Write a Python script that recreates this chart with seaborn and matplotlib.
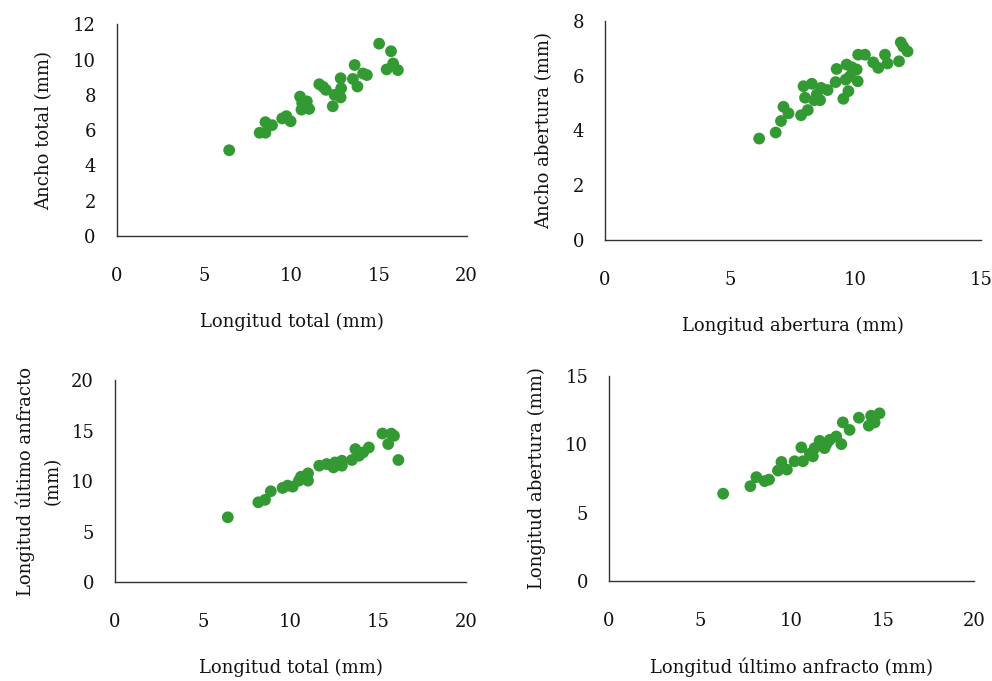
import matplotlib
matplotlib.use("Agg")
import matplotlib.pyplot as plt
import seaborn as sns
import pandas as pd

# Panel 1: Longitud total vs Ancho total
lt_1 = [6.43, 8.17, 8.5, 8.5, 8.88, 9.46, 9.7, 9.94, 10.48, 10.6, 10.87, 11.0, 10.56,
        11.58, 11.8, 11.96, 12.35, 12.45, 12.8, 12.8, 12.83, 13.6, 13.5, 13.76, 14.08,
        14.3, 15.0, 15.68, 15.43, 15.8, 16.07]
at_1 = [4.86, 5.85, 5.85, 6.45, 6.28, 6.66, 6.79, 6.5, 7.9, 7.53, 7.63, 7.2, 7.16,
        8.6, 8.45, 8.28, 7.35, 8.0, 8.94, 7.85, 8.37, 9.69, 8.9, 8.47, 9.21,
        9.12, 10.9, 10.47, 9.44, 9.78, 9.4]

# Panel 2: Longitud abertura vs Ancho abertura
la_2 = [6.15, 6.81, 7.02, 7.12, 7.32, 7.82, 8.09, 7.92, 8.25, 7.98, 8.35, 8.58, 8.62,
        8.88, 8.45, 9.2, 9.24, 9.51, 9.64, 9.71, 9.77, 9.6, 9.85, 10.04, 10.08, 10.1,
        10.37, 10.7, 10.9, 11.17, 11.27, 11.73, 11.8, 11.9, 12.07]
aa_2 = [3.70, 3.92, 4.34, 4.86, 4.62, 4.55, 4.74, 5.61, 5.70, 5.19, 5.10, 5.10, 5.55,
        5.47, 5.31, 5.76, 6.24, 5.15, 6.4, 5.43, 5.97, 5.85, 6.3, 6.22, 5.79, 6.76,
        6.76, 6.48, 6.28, 6.76, 6.44, 6.52, 7.21, 7.05, 6.88]

# Panel 3: Longitud total vs Longitud ultimo anfracto
lt_3 = [6.43, 8.17, 8.55, 8.88, 9.55, 9.84, 10.13, 10.48, 10.6, 11.0, 11.0, 10.8,
        11.64, 12.06, 12.45, 12.54, 12.93, 12.93, 13.5, 13.7, 13.9, 14.14, 14.47,
        15.24, 15.9, 15.75, 15.57, 16.15]
lua_3 = [6.43, 7.91, 8.15, 9.0, 9.33, 9.56, 9.46, 10.05, 10.44, 10.77, 10.05, 10.3,
         11.53, 11.69, 11.36, 11.85, 12.02, 11.53, 12.09, 13.17, 12.51, 12.84, 13.33,
         14.71, 14.48, 14.7, 13.67, 12.09]

# Panel 4: Longitud ultimo anfracto vs Longitud abertura
lua_4 = [6.25, 7.74, 8.07, 8.52, 8.76, 9.25, 9.44, 9.74, 10.16, 10.53, 10.62, 11.16,
         11.26, 11.53, 11.8, 12.08, 12.44, 12.72, 12.8, 13.17, 13.68, 14.22, 14.35,
         14.81, 14.54, 11.0, 11.9]
la_4 = [6.38, 6.93, 7.59, 7.3, 7.41, 8.07, 8.70, 8.14, 8.75, 9.76, 8.75, 9.11,
        9.71, 10.24, 9.71, 10.31, 10.56, 10.0, 11.59, 11.04, 11.93, 11.35, 12.08,
        12.25, 11.59, 9.3, 10.0]

sns.set_style("white")
plt.rcParams['font.family'] = ['DejaVu Serif']
plt.rcParams['font.size'] = 13

GREEN = '#339a33'

fig = plt.figure(figsize=(9.92, 6.81), dpi=100)

panels = [
    # (rect, x, y, xlabel, ylabel, xmax, xstep, ymax, ystep, ylabelpad)
    ([0.1176, 0.6535, 0.3528, 0.3109], lt_1, at_1, 'Longitud total (mm)', 'Ancho total (mm)', 20, 5, 12, 2, 14),
    ([0.6099, 0.6476, 0.3790, 0.3220], la_2, aa_2, 'Longitud abertura (mm)', 'Ancho abertura (mm)', 15, 5, 8, 2, 14),
    ([0.1159, 0.1449, 0.3538, 0.2971], lt_3, lua_3, 'Longitud total (mm)', 'Longitud último anfracto\n(mm)', 20, 5, 20, 5, 7),
    ([0.6139, 0.1468, 0.3683, 0.3015], lua_4, la_4, 'Longitud último anfracto (mm)', 'Longitud abertura (mm)', 20, 5, 15, 5, 14),
]

for rect, xs, ys, xl, yl, xmax, xstep, ymax, ystep, ypad in panels:
    ax = fig.add_axes(rect)
    df = pd.DataFrame({'x': xs, 'y': ys})
    sns.scatterplot(data=df, x='x', y='y', ax=ax, color=GREEN, s=72,
                    edgecolor='none', linewidth=0, clip_on=False)
    ax.set_xlim(0, xmax)
    ax.set_ylim(0, ymax)
    ax.set_xticks(range(0, xmax + 1, xstep))
    ax.set_yticks(range(0, ymax + 1, ystep))
    sns.despine(ax=ax)
    for side in ['left', 'bottom']:
        ax.spines[side].set_color('#333333')
        ax.spines[side].set_linewidth(1.0)
    ax.tick_params(axis='both', direction='out', length=6, width=1.0,
                   color='#333333', labelsize=13, labelcolor='#111111')
    ax.tick_params(axis='x', pad=16)
    ax.tick_params(axis='y', pad=9)
    ax.set_xlabel(xl, fontsize=13, color='#111111', labelpad=20)
    ax.set_ylabel(yl, fontsize=13, color='#111111', labelpad=ypad, linespacing=1.6)

fig.savefig('out.png', dpi=100)
